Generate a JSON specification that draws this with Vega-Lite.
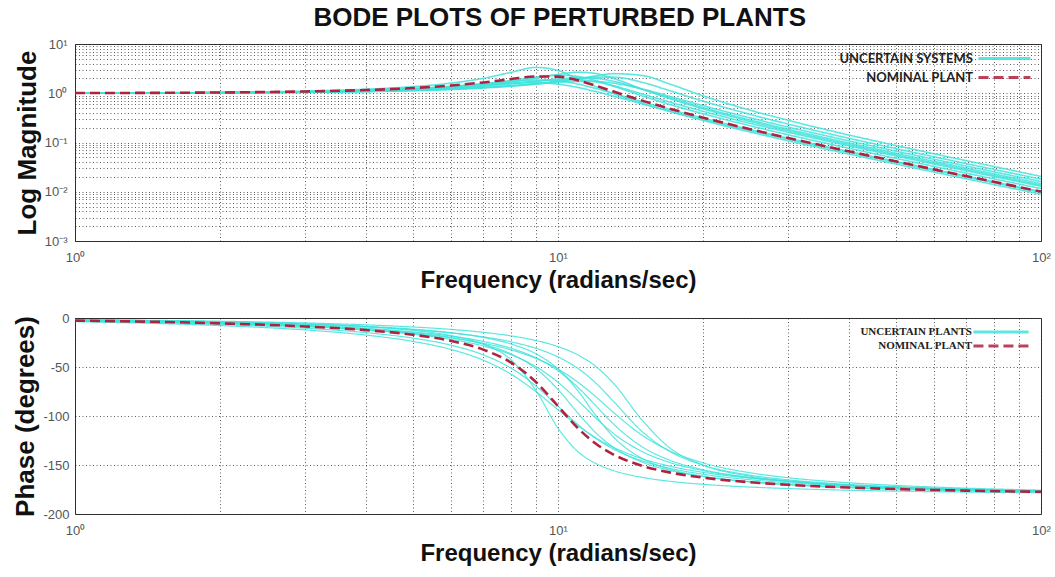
{
  "$schema": "https://vega.github.io/schema/vega-lite/v6.json",
  "background": "white",
  "padding": {"left": 12, "right": 0, "top": 4, "bottom": 4},
  "title": {"text": "BODE PLOTS OF PERTURBED PLANTS", "font": "Liberation Sans", "fontSize": 26, "fontWeight": "bold", "color": "#111", "anchor": "middle", "offset": 7, "dx": 28},
  "config": {
    "view": {"stroke": "#333", "strokeWidth": 1},
    "axis": {"labelFont": "Liberation Sans", "labelFontSize": 13, "labelColor": "#555", "titleFont": "Liberation Sans", "titleFontWeight": "bold", "titleColor": "#111", "grid": true, "gridColor": "#222", "gridDash": [1, 2.5], "gridOpacity": 0.9, "gridWidth": 0.8, "domain": false, "ticks": false, "labelOverlap": false, "labelFlush": false}
  },
  "datasets": {
    "bode": [
      {"c":"C1","k":"uncertain","w":1,"m":1.011,"p":-1.85},{"c":"C1","k":"uncertain","w":2,"m":1.045,"p":-3.82},{"c":"C1","k":"uncertain","w":3,"m":1.107,"p":-6.08},{"c":"C1","k":"uncertain","w":4,"m":1.207,"p":-8.86},{"c":"C1","k":"uncertain","w":5,"m":1.361,"p":-12.55},{"c":"C1","k":"uncertain","w":6,"m":1.606,"p":-17.91},{"c":"C1","k":"uncertain","w":7,"m":2.007,"p":-26.64},{"c":"C1","k":"uncertain","w":8,"m":2.661,"p":-42.8},{"c":"C1","k":"uncertain","w":9,"m":3.344,"p":-73.83},{"c":"C1","k":"uncertain","w":10,"m":2.896,"p":-112.43},{"c":"C1","k":"uncertain","w":11,"m":1.962,"p":-136.46},{"c":"C1","k":"uncertain","w":12,"m":1.357,"p":-148.69},{"c":"C1","k":"uncertain","w":13,"m":0.997,"p":-155.55},{"c":"C1","k":"uncertain","w":15,"m":0.618,"p":-162.8},{"c":"C1","k":"uncertain","w":17,"m":0.428,"p":-166.56},{"c":"C1","k":"uncertain","w":20,"m":0.279,"p":-169.74},{"c":"C1","k":"uncertain","w":25,"m":0.163,"p":-172.52},{"c":"C1","k":"uncertain","w":30,"m":0.108,"p":-174.05},{"c":"C1","k":"uncertain","w":40,"m":0.0583,"p":-175.73},{"c":"C1","k":"uncertain","w":50,"m":0.0366,"p":-176.65},{"c":"C1","k":"uncertain","w":70,"m":0.0183,"p":-177.65},{"c":"C1","k":"uncertain","w":100,"m":0.00891,"p":-178.37},
      {"c":"C2","k":"uncertain","w":1,"m":1.009,"p":-3.24},{"c":"C2","k":"uncertain","w":2,"m":1.035,"p":-6.65},{"c":"C2","k":"uncertain","w":3,"m":1.081,"p":-10.46},{"c":"C2","k":"uncertain","w":4,"m":1.15,"p":-14.93},{"c":"C2","k":"uncertain","w":5,"m":1.249,"p":-20.47},{"c":"C2","k":"uncertain","w":6,"m":1.383,"p":-27.7},{"c":"C2","k":"uncertain","w":7,"m":1.555,"p":-37.55},{"c":"C2","k":"uncertain","w":8,"m":1.74,"p":-51.22},{"c":"C2","k":"uncertain","w":9,"m":1.857,"p":-69.34},{"c":"C2","k":"uncertain","w":10,"m":1.786,"p":-90},{"c":"C2","k":"uncertain","w":11,"m":1.537,"p":-108.83},{"c":"C2","k":"uncertain","w":12,"m":1.245,"p":-123.22},{"c":"C2","k":"uncertain","w":13,"m":0.997,"p":-133.47},{"c":"C2","k":"uncertain","w":15,"m":0.664,"p":-146.1},{"c":"C2","k":"uncertain","w":17,"m":0.473,"p":-153.26},{"c":"C2","k":"uncertain","w":20,"m":0.312,"p":-159.53},{"c":"C2","k":"uncertain","w":25,"m":0.184,"p":-165.07},{"c":"C2","k":"uncertain","w":30,"m":0.122,"p":-168.14},{"c":"C2","k":"uncertain","w":40,"m":0.0659,"p":-171.51},{"c":"C2","k":"uncertain","w":50,"m":0.0414,"p":-173.35},{"c":"C2","k":"uncertain","w":70,"m":0.0208,"p":-175.33},{"c":"C2","k":"uncertain","w":100,"m":0.0101,"p":-176.76},
      {"c":"C3","k":"uncertain","w":1,"m":1.008,"p":-2.38},{"c":"C3","k":"uncertain","w":2,"m":1.033,"p":-4.87},{"c":"C3","k":"uncertain","w":3,"m":1.076,"p":-7.63},{"c":"C3","k":"uncertain","w":4,"m":1.142,"p":-10.82},{"c":"C3","k":"uncertain","w":5,"m":1.237,"p":-14.74},{"c":"C3","k":"uncertain","w":6,"m":1.373,"p":-19.79},{"c":"C3","k":"uncertain","w":7,"m":1.562,"p":-26.71},{"c":"C3","k":"uncertain","w":8,"m":1.818,"p":-36.72},{"c":"C3","k":"uncertain","w":9,"m":2.12,"p":-51.68},{"c":"C3","k":"uncertain","w":10,"m":2.324,"p":-72.89},{"c":"C3","k":"uncertain","w":11,"m":2.194,"p":-97.16},{"c":"C3","k":"uncertain","w":12,"m":1.796,"p":-117.58},{"c":"C3","k":"uncertain","w":13,"m":1.397,"p":-131.69},{"c":"C3","k":"uncertain","w":15,"m":0.873,"p":-147.42},{"c":"C3","k":"uncertain","w":17,"m":0.596,"p":-155.36},{"c":"C3","k":"uncertain","w":20,"m":0.381,"p":-161.75},{"c":"C3","k":"uncertain","w":25,"m":0.219,"p":-167.02},{"c":"C3","k":"uncertain","w":30,"m":0.143,"p":-169.81},{"c":"C3","k":"uncertain","w":40,"m":0.0765,"p":-172.78},{"c":"C3","k":"uncertain","w":50,"m":0.0478,"p":-174.36},{"c":"C3","k":"uncertain","w":70,"m":0.0239,"p":-176.06},{"c":"C3","k":"uncertain","w":100,"m":0.0116,"p":-177.27},
      {"c":"C4","k":"uncertain","w":1,"m":1.007,"p":-2.76},{"c":"C4","k":"uncertain","w":2,"m":1.027,"p":-5.63},{"c":"C4","k":"uncertain","w":3,"m":1.063,"p":-8.77},{"c":"C4","k":"uncertain","w":4,"m":1.117,"p":-12.33},{"c":"C4","k":"uncertain","w":5,"m":1.192,"p":-16.55},{"c":"C4","k":"uncertain","w":6,"m":1.293,"p":-21.77},{"c":"C4","k":"uncertain","w":7,"m":1.426,"p":-28.49},{"c":"C4","k":"uncertain","w":8,"m":1.591,"p":-37.47},{"c":"C4","k":"uncertain","w":9,"m":1.771,"p":-49.63},{"c":"C4","k":"uncertain","w":10,"m":1.906,"p":-65.59},{"c":"C4","k":"uncertain","w":11,"m":1.893,"p":-84.31},{"c":"C4","k":"uncertain","w":12,"m":1.702,"p":-102.56},{"c":"C4","k":"uncertain","w":13,"m":1.428,"p":-117.51},{"c":"C4","k":"uncertain","w":15,"m":0.956,"p":-136.75},{"c":"C4","k":"uncertain","w":17,"m":0.666,"p":-147.25},{"c":"C4","k":"uncertain","w":20,"m":0.428,"p":-155.86},{"c":"C4","k":"uncertain","w":25,"m":0.245,"p":-162.95},{"c":"C4","k":"uncertain","w":30,"m":0.161,"p":-166.67},{"c":"C4","k":"uncertain","w":40,"m":0.0856,"p":-170.59},{"c":"C4","k":"uncertain","w":50,"m":0.0534,"p":-172.67},{"c":"C4","k":"uncertain","w":70,"m":0.0267,"p":-174.89},{"c":"C4","k":"uncertain","w":100,"m":0.0129,"p":-176.46},
      {"c":"C5","k":"uncertain","w":1,"m":1.006,"p":-2.4},{"c":"C5","k":"uncertain","w":2,"m":1.025,"p":-4.9},{"c":"C5","k":"uncertain","w":3,"m":1.057,"p":-7.59},{"c":"C5","k":"uncertain","w":4,"m":1.106,"p":-10.62},{"c":"C5","k":"uncertain","w":5,"m":1.173,"p":-14.15},{"c":"C5","k":"uncertain","w":6,"m":1.265,"p":-18.43},{"c":"C5","k":"uncertain","w":7,"m":1.386,"p":-23.85},{"c":"C5","k":"uncertain","w":8,"m":1.544,"p":-30.96},{"c":"C5","k":"uncertain","w":9,"m":1.736,"p":-40.6},{"c":"C5","k":"uncertain","w":10,"m":1.935,"p":-53.75},{"c":"C5","k":"uncertain","w":11,"m":2.06,"p":-70.79},{"c":"C5","k":"uncertain","w":12,"m":2.0,"p":-90},{"c":"C5","k":"uncertain","w":13,"m":1.758,"p":-107.77},{"c":"C5","k":"uncertain","w":15,"m":1.189,"p":-131.99},{"c":"C5","k":"uncertain","w":17,"m":0.812,"p":-144.87},{"c":"C5","k":"uncertain","w":20,"m":0.509,"p":-154.89},{"c":"C5","k":"uncertain","w":25,"m":0.286,"p":-162.68},{"c":"C5","k":"uncertain","w":30,"m":0.185,"p":-166.61},{"c":"C5","k":"uncertain","w":40,"m":0.0976,"p":-170.64},{"c":"C5","k":"uncertain","w":50,"m":0.0606,"p":-172.74},{"c":"C5","k":"uncertain","w":70,"m":0.0302,"p":-174.95},{"c":"C5","k":"uncertain","w":100,"m":0.0146,"p":-176.52},
      {"c":"C6","k":"uncertain","w":1,"m":1.005,"p":-2.74},{"c":"C6","k":"uncertain","w":2,"m":1.021,"p":-5.58},{"c":"C6","k":"uncertain","w":3,"m":1.048,"p":-8.61},{"c":"C6","k":"uncertain","w":4,"m":1.088,"p":-11.96},{"c":"C6","k":"uncertain","w":5,"m":1.142,"p":-15.78},{"c":"C6","k":"uncertain","w":6,"m":1.213,"p":-20.28},{"c":"C6","k":"uncertain","w":7,"m":1.303,"p":-25.74},{"c":"C6","k":"uncertain","w":8,"m":1.412,"p":-32.55},{"c":"C6","k":"uncertain","w":9,"m":1.537,"p":-41.19},{"c":"C6","k":"uncertain","w":10,"m":1.658,"p":-52.14},{"c":"C6","k":"uncertain","w":11,"m":1.738,"p":-65.58},{"c":"C6","k":"uncertain","w":12,"m":1.727,"p":-80.76},{"c":"C6","k":"uncertain","w":13,"m":1.607,"p":-95.95},{"c":"C6","k":"uncertain","w":15,"m":1.209,"p":-120.29},{"c":"C6","k":"uncertain","w":17,"m":0.868,"p":-135.38},{"c":"C6","k":"uncertain","w":20,"m":0.558,"p":-147.92},{"c":"C6","k":"uncertain","w":25,"m":0.316,"p":-157.93},{"c":"C6","k":"uncertain","w":30,"m":0.205,"p":-162.99},{"c":"C6","k":"uncertain","w":40,"m":0.108,"p":-168.15},{"c":"C6","k":"uncertain","w":50,"m":0.0669,"p":-170.83},{"c":"C6","k":"uncertain","w":70,"m":0.0333,"p":-173.63},{"c":"C6","k":"uncertain","w":100,"m":0.0161,"p":-175.61},
      {"c":"C7","k":"uncertain","w":1,"m":1.005,"p":-2.08},{"c":"C7","k":"uncertain","w":2,"m":1.02,"p":-4.22},{"c":"C7","k":"uncertain","w":3,"m":1.047,"p":-6.51},{"c":"C7","k":"uncertain","w":4,"m":1.086,"p":-9.02},{"c":"C7","k":"uncertain","w":5,"m":1.14,"p":-11.87},{"c":"C7","k":"uncertain","w":6,"m":1.212,"p":-15.21},{"c":"C7","k":"uncertain","w":7,"m":1.306,"p":-19.26},{"c":"C7","k":"uncertain","w":8,"m":1.428,"p":-24.34},{"c":"C7","k":"uncertain","w":9,"m":1.582,"p":-30.93},{"c":"C7","k":"uncertain","w":10,"m":1.77,"p":-39.7},{"c":"C7","k":"uncertain","w":11,"m":1.971,"p":-51.49},{"c":"C7","k":"uncertain","w":12,"m":2.122,"p":-66.76},{"c":"C7","k":"uncertain","w":13,"m":2.122,"p":-84.57},{"c":"C7","k":"uncertain","w":15,"m":1.651,"p":-116.67},{"c":"C7","k":"uncertain","w":17,"m":1.134,"p":-135.93},{"c":"C7","k":"uncertain","w":20,"m":0.688,"p":-150.22},{"c":"C7","k":"uncertain","w":25,"m":0.372,"p":-160.4},{"c":"C7","k":"uncertain","w":30,"m":0.236,"p":-165.16},{"c":"C7","k":"uncertain","w":40,"m":0.122,"p":-169.83},{"c":"C7","k":"uncertain","w":50,"m":0.0754,"p":-172.18},{"c":"C7","k":"uncertain","w":70,"m":0.0373,"p":-174.6},{"c":"C7","k":"uncertain","w":100,"m":0.018,"p":-176.28},
      {"c":"C8","k":"uncertain","w":1,"m":1.005,"p":-1.62},{"c":"C8","k":"uncertain","w":2,"m":1.019,"p":-3.29},{"c":"C8","k":"uncertain","w":3,"m":1.043,"p":-5.05},{"c":"C8","k":"uncertain","w":4,"m":1.078,"p":-6.98},{"c":"C8","k":"uncertain","w":5,"m":1.127,"p":-9.13},{"c":"C8","k":"uncertain","w":6,"m":1.192,"p":-11.63},{"c":"C8","k":"uncertain","w":7,"m":1.278,"p":-14.6},{"c":"C8","k":"uncertain","w":8,"m":1.391,"p":-18.27},{"c":"C8","k":"uncertain","w":9,"m":1.539,"p":-22.97},{"c":"C8","k":"uncertain","w":10,"m":1.732,"p":-29.2},{"c":"C8","k":"uncertain","w":11,"m":1.977,"p":-37.77},{"c":"C8","k":"uncertain","w":12,"m":2.259,"p":-49.78},{"c":"C8","k":"uncertain","w":13,"m":2.498,"p":-66.15},{"c":"C8","k":"uncertain","w":15,"m":2.282,"p":-105.33},{"c":"C8","k":"uncertain","w":17,"m":1.549,"p":-132.14},{"c":"C8","k":"uncertain","w":20,"m":0.882,"p":-150.2},{"c":"C8","k":"uncertain","w":25,"m":0.452,"p":-161.46},{"c":"C8","k":"uncertain","w":30,"m":0.281,"p":-166.29},{"c":"C8","k":"uncertain","w":40,"m":0.142,"p":-170.77},{"c":"C8","k":"uncertain","w":50,"m":0.0871,"p":-172.96},{"c":"C8","k":"uncertain","w":70,"m":0.0428,"p":-175.16},{"c":"C8","k":"uncertain","w":100,"m":0.0205,"p":-176.68},
      {"c":"C9","k":"uncertain","w":1,"m":1.008,"p":-3.78},{"c":"C9","k":"uncertain","w":2,"m":1.034,"p":-7.76},{"c":"C9","k":"uncertain","w":3,"m":1.079,"p":-12.2},{"c":"C9","k":"uncertain","w":4,"m":1.145,"p":-17.4},{"c":"C9","k":"uncertain","w":5,"m":1.237,"p":-23.82},{"c":"C9","k":"uncertain","w":6,"m":1.355,"p":-32.08},{"c":"C9","k":"uncertain","w":7,"m":1.493,"p":-43.03},{"c":"C9","k":"uncertain","w":8,"m":1.613,"p":-57.44},{"c":"C9","k":"uncertain","w":9,"m":1.644,"p":-75.08},{"c":"C9","k":"uncertain","w":10,"m":1.528,"p":-93.61},{"c":"C9","k":"uncertain","w":11,"m":1.309,"p":-109.89},{"c":"C9","k":"uncertain","w":12,"m":1.076,"p":-122.5},{"c":"C9","k":"uncertain","w":13,"m":0.878,"p":-131.83},{"c":"C9","k":"uncertain","w":15,"m":0.602,"p":-143.89},{"c":"C9","k":"uncertain","w":17,"m":0.436,"p":-151.07},{"c":"C9","k":"uncertain","w":20,"m":0.292,"p":-157.57},{"c":"C9","k":"uncertain","w":25,"m":0.174,"p":-163.49},{"c":"C9","k":"uncertain","w":30,"m":0.116,"p":-166.83},{"c":"C9","k":"uncertain","w":40,"m":0.063,"p":-170.53},{"c":"C9","k":"uncertain","w":50,"m":0.0396,"p":-172.57},{"c":"C9","k":"uncertain","w":70,"m":0.0199,"p":-174.78},{"c":"C9","k":"uncertain","w":100,"m":0.00968,"p":-176.38},
      {"c":"C10","k":"uncertain","w":1,"m":1.007,"p":-1.89},{"c":"C10","k":"uncertain","w":2,"m":1.028,"p":-3.86},{"c":"C10","k":"uncertain","w":3,"m":1.066,"p":-6.01},{"c":"C10","k":"uncertain","w":4,"m":1.123,"p":-8.46},{"c":"C10","k":"uncertain","w":5,"m":1.204,"p":-11.37},{"c":"C10","k":"uncertain","w":6,"m":1.319,"p":-15.02},{"c":"C10","k":"uncertain","w":7,"m":1.479,"p":-19.83},{"c":"C10","k":"uncertain","w":8,"m":1.706,"p":-26.56},{"c":"C10","k":"uncertain","w":9,"m":2.019,"p":-36.52},{"c":"C10","k":"uncertain","w":10,"m":2.402,"p":-51.9},{"c":"C10","k":"uncertain","w":11,"m":2.673,"p":-74.38},{"c":"C10","k":"uncertain","w":12,"m":2.504,"p":-100.12},{"c":"C10","k":"uncertain","w":13,"m":2.013,"p":-121.0},{"c":"C10","k":"uncertain","w":15,"m":1.201,"p":-143.83},{"c":"C10","k":"uncertain","w":17,"m":0.784,"p":-154.12},{"c":"C10","k":"uncertain","w":20,"m":0.481,"p":-161.63},{"c":"C10","k":"uncertain","w":25,"m":0.268,"p":-167.34},{"c":"C10","k":"uncertain","w":30,"m":0.173,"p":-170.2},{"c":"C10","k":"uncertain","w":40,"m":0.0912,"p":-173.14},{"c":"C10","k":"uncertain","w":50,"m":0.0566,"p":-174.68},{"c":"C10","k":"uncertain","w":70,"m":0.0282,"p":-176.3},{"c":"C10","k":"uncertain","w":100,"m":0.0136,"p":-177.44},
      {"c":"N","k":"nominal","w":1,"m":1.009,"p":-2.66},{"c":"N","k":"nominal","w":2,"m":1.037,"p":-5.47},{"c":"N","k":"nominal","w":3,"m":1.087,"p":-8.62},{"c":"N","k":"nominal","w":4,"m":1.163,"p":-12.36},{"c":"N","k":"nominal","w":5,"m":1.275,"p":-17.05},{"c":"N","k":"nominal","w":6,"m":1.435,"p":-23.33},{"c":"N","k":"nominal","w":7,"m":1.658,"p":-32.27},{"c":"N","k":"nominal","w":8,"m":1.942,"p":-45.63},{"c":"N","k":"nominal","w":9,"m":2.195,"p":-65.35},{"c":"N","k":"nominal","w":10,"m":2.174,"p":-90},{"c":"N","k":"nominal","w":11,"m":1.825,"p":-112.54},{"c":"N","k":"nominal","w":12,"m":1.417,"p":-128.56},{"c":"N","k":"nominal","w":13,"m":1.095,"p":-139.09},{"c":"N","k":"nominal","w":15,"m":0.7,"p":-151.1},{"c":"N","k":"nominal","w":17,"m":0.489,"p":-157.52},{"c":"N","k":"nominal","w":20,"m":0.319,"p":-162.95},{"c":"N","k":"nominal","w":25,"m":0.186,"p":-167.64},{"c":"N","k":"nominal","w":30,"m":0.123,"p":-170.21},{"c":"N","k":"nominal","w":40,"m":0.0662,"p":-173.01},{"c":"N","k":"nominal","w":50,"m":0.0415,"p":-174.53},{"c":"N","k":"nominal","w":70,"m":0.0208,"p":-176.16},{"c":"N","k":"nominal","w":100,"m":0.0101,"p":-177.34}
    ]
  },
  "spacing": 18,
  "vconcat": [
    {
      "width": 966,
      "height": 197,
      "data": {"name": "bode"},
      "encoding": {
        "x": {"field": "w", "type": "quantitative", "scale": {"type": "log", "domain": [1, 100]},
          "axis": {"title": "Frequency (radians/sec)", "titleFontSize": 24, "titlePadding": 4, "labelPadding": 10,
            "values": [1,2,3,4,5,6,7,8,9,10,20,30,40,50,60,70,80,90,100],
            "labelExpr": "datum.value == 1 ? '10⁰' : datum.value == 10 ? '10¹' : datum.value == 100 ? '10²' : ''"}},
        "y": {"field": "m", "type": "quantitative", "scale": {"type": "log", "domain": [0.001, 10]},
          "axis": {"title": "Log Magnitude", "titleFontSize": 26, "titlePadding": 4, "labelPadding": 8,
            "values": [0.001,0.002,0.003,0.004,0.005,0.006,0.007,0.008,0.009,0.01,0.02,0.03,0.04,0.05,0.06,0.07,0.08,0.09,0.1,0.2,0.3,0.4,0.5,0.6,0.7,0.8,0.9,1,2,3,4,5,6,7,8,9,10],
            "labelExpr": "datum.value == 0.001 ? '10⁻³' : datum.value == 0.01 ? '10⁻²' : datum.value == 0.1 ? '10⁻¹' : datum.value == 1 ? '10⁰' : datum.value == 10 ? '10¹' : ''"}},
        "color": {"field": "k", "type": "nominal", "scale": {"domain": ["uncertain", "nominal"], "range": ["#3fe3dc", "#b1223f"]},
          "legend": {"title": null, "orient": "top-right", "offset": 4, "labelExpr": "datum.value == 'uncertain' ? 'UNCERTAIN SYSTEMS' : 'NOMINAL PLANT'", "labelFont": "Lato", "labelFontWeight": "bold", "labelFontSize": 13, "labelColor": "#222", "symbolType": "M-3,0H3", "symbolSize": 300, "symbolStrokeWidth": 3, "labelAlign": "right", "labelOffset": -42, "rowPadding": 1}},
        "strokeDash": {"field": "k", "type": "nominal", "scale": {"domain": ["uncertain", "nominal"], "range": [[1, 0], [10, 5]]},
          "legend": {"title": null, "orient": "top-right", "offset": 4, "labelExpr": "datum.value == 'uncertain' ? 'UNCERTAIN SYSTEMS' : 'NOMINAL PLANT'", "labelFont": "Lato", "labelFontWeight": "bold", "labelFontSize": 13, "labelColor": "#222", "symbolType": "M-3,0H3", "symbolSize": 300, "symbolStrokeWidth": 3, "labelAlign": "right", "labelOffset": -42, "rowPadding": 1}},
        "detail": {"field": "c", "type": "nominal"}
      },
      "layer": [
        {"transform": [{"filter": "datum.k == 'uncertain'"}], "mark": {"type": "line", "strokeWidth": 1.6, "opacity": 0.85, "interpolate": "monotone"}},
        {"transform": [{"filter": "datum.k == 'nominal'"}], "mark": {"type": "line", "strokeWidth": 2.6, "interpolate": "monotone"}}
      ]
    },
    {
      "width": 966,
      "height": 196,
      "data": {"name": "bode"},
      "encoding": {
        "x": {"field": "w", "type": "quantitative", "scale": {"type": "log", "domain": [1, 100]},
          "axis": {"title": "Frequency (radians/sec)", "titleFontSize": 24, "titlePadding": 4, "labelPadding": 10,
            "values": [1,2,3,4,5,6,7,8,9,10,20,30,40,50,60,70,80,90,100],
            "labelExpr": "datum.value == 1 ? '10⁰' : datum.value == 10 ? '10¹' : datum.value == 100 ? '10²' : ''"}},
        "y": {"field": "p", "type": "quantitative", "scale": {"domain": [-200, 0]},
          "axis": {"title": "Phase (degrees)", "titleFontSize": 26, "titlePadding": 4, "labelPadding": 6,
            "values": [-200, -150, -100, -50, 0], "labelExpr": "'' + datum.value"}},
        "color": {"field": "k", "type": "nominal", "scale": {"domain": ["uncertain", "nominal"], "range": ["#3fe3dc", "#b1223f"]},
          "legend": {"title": null, "orient": "top-right", "offset": 6, "labelExpr": "datum.value == 'uncertain' ? 'UNCERTAIN PLANTS' : 'NOMINAL PLANT'", "labelFont": "Liberation Serif", "labelFontWeight": "bold", "labelFontSize": 11, "labelColor": "#222", "symbolType": "M-4.5,0H4.5", "symbolSize": 150, "symbolStrokeWidth": 3, "labelAlign": "right", "labelOffset": -37, "rowPadding": -2}},
        "strokeDash": {"field": "k", "type": "nominal", "scale": {"domain": ["uncertain", "nominal"], "range": [[1, 0], [10, 5]]},
          "legend": {"title": null, "orient": "top-right", "offset": 6, "labelExpr": "datum.value == 'uncertain' ? 'UNCERTAIN PLANTS' : 'NOMINAL PLANT'", "labelFont": "Liberation Serif", "labelFontWeight": "bold", "labelFontSize": 11, "labelColor": "#222", "symbolType": "M-4.5,0H4.5", "symbolSize": 150, "symbolStrokeWidth": 3, "labelAlign": "right", "labelOffset": -37, "rowPadding": -2}},
        "detail": {"field": "c", "type": "nominal"}
      },
      "layer": [
        {"transform": [{"filter": "datum.k == 'uncertain'"}], "mark": {"type": "line", "strokeWidth": 1.2, "opacity": 0.85, "interpolate": "monotone"}},
        {"transform": [{"filter": "datum.k == 'nominal'"}], "mark": {"type": "line", "strokeWidth": 2.6, "interpolate": "monotone"}}
      ]
    }
  ],
  "resolve": {"scale": {"color": "independent", "strokeDash": "independent"}, "legend": {"color": "independent", "strokeDash": "independent"}}
}
